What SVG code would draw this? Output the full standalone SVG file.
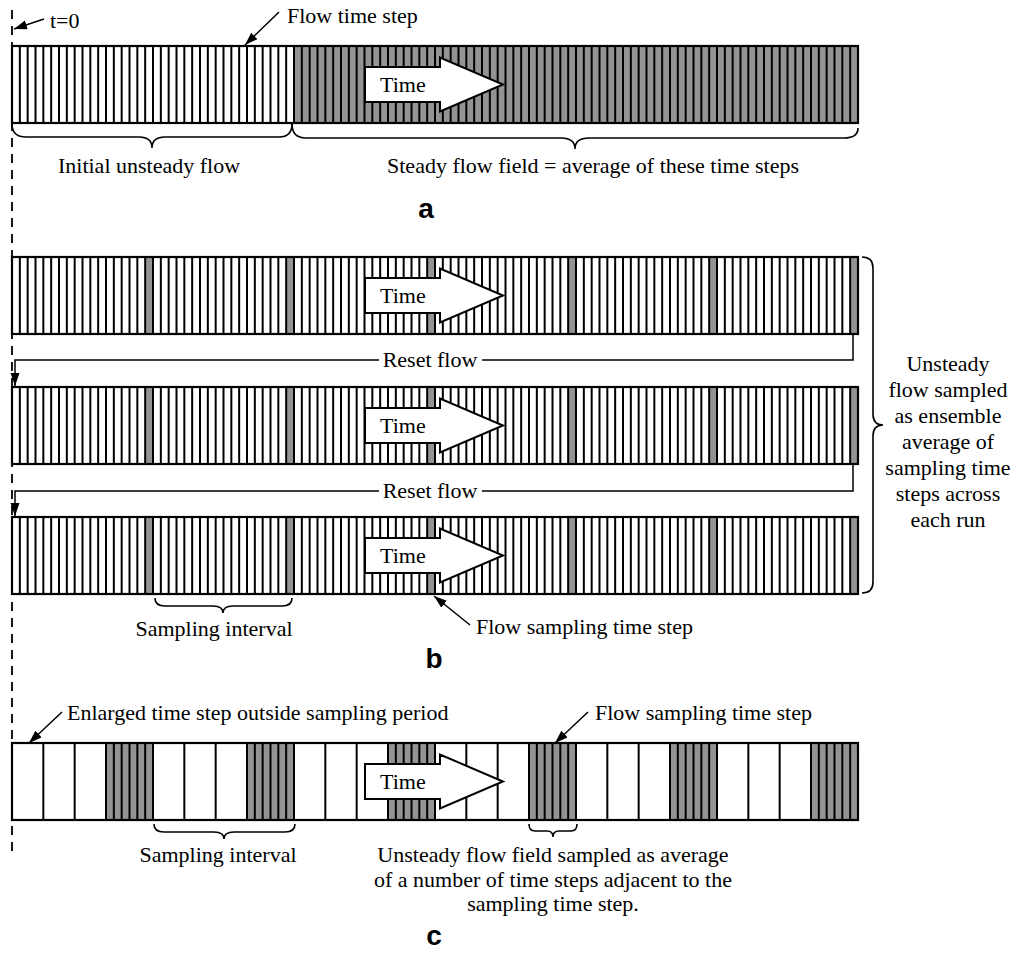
<svg xmlns="http://www.w3.org/2000/svg" width="1017" height="956" viewBox="0 0 1017 956">
<style>
.t{font-family:"Liberation Serif","Times New Roman",serif;font-size:22px;fill:#000}
.m{text-anchor:middle}
.lbl{font-family:"Liberation Sans",Arial,sans-serif;font-size:28px;font-weight:bold;fill:#000;text-anchor:middle}
.ol{fill:none;stroke:#000;stroke-width:2.2}
.bg{fill:#fff}
.g{fill:#939393}
.cl{stroke:#000;stroke-width:2;fill:none}
.ta{fill:#fff;stroke:#000;stroke-width:2}
.br{fill:none;stroke:#000;stroke-width:1.6}
.cn{fill:none;stroke:#000;stroke-width:1.5}
.dash{fill:none;stroke:#000;stroke-width:1.8;stroke-dasharray:9 7}
</style>
<defs>
<marker id="ah" markerUnits="userSpaceOnUse" markerWidth="16" markerHeight="12" refX="13" refY="4.5" orient="auto"><path d="M0,0 L13,4.5 L0,9 z" fill="#000"/></marker>
<path id="six" class="cl" d="M12 0v77M19.833 0v77M27.667 0v77M35.5 0v77M43.333 0v77M51.167 0v77"/>
<g id="row">
<use href="#six"/><use href="#six" x="47"/><use href="#six" x="94"/><use href="#six" x="141"/><use href="#six" x="188"/><use href="#six" x="235"/><use href="#six" x="282"/><use href="#six" x="329"/><use href="#six" x="376"/><use href="#six" x="423"/><use href="#six" x="470"/><use href="#six" x="517"/><use href="#six" x="564"/><use href="#six" x="611"/><use href="#six" x="658"/><use href="#six" x="705"/><use href="#six" x="752"/><use href="#six" x="799"/>
</g>
<path id="cper" class="cl" d="M43.333 0v77M74.667 0v77M106 0v77M113.833 0v77M121.667 0v77M129.5 0v77M137.333 0v77M145.167 0v77M153 0v77"/>
<path id="tarrow" class="ta" d="M365 -17.5H440V-27L503 0L440 27V17.5H365Z"/>
</defs>

<path class="dash" d="M12 10V852"/>

<g id="bar-a">
<rect class="bg" x="12" y="46" width="846" height="77"/>
<rect class="g" x="294" y="46" width="564" height="77"/>
<use href="#row" y="46"/>
<rect class="ol" x="12" y="46" width="846" height="77"/>
<use href="#tarrow" y="84.5"/>
<text class="t" x="380" y="92">Time</text>
</g>

<g id="bar-b1">
<rect class="bg" x="12" y="257" width="846" height="77"/>
<rect class="g" x="145.167" y="257" width="7.833" height="77"/><rect class="g" x="286.167" y="257" width="7.833" height="77"/><rect class="g" x="427.167" y="257" width="7.833" height="77"/><rect class="g" x="568.167" y="257" width="7.833" height="77"/><rect class="g" x="709.167" y="257" width="7.833" height="77"/><rect class="g" x="850.167" y="257" width="7.833" height="77"/>
<use href="#row" y="257"/>
<rect class="ol" x="12" y="257" width="846" height="77"/>
<use href="#tarrow" y="295.5"/>
<text class="t" x="380" y="303">Time</text>
</g>

<g id="bar-b2">
<rect class="bg" x="12" y="387" width="846" height="77"/>
<rect class="g" x="145.167" y="387" width="7.833" height="77"/><rect class="g" x="286.167" y="387" width="7.833" height="77"/><rect class="g" x="427.167" y="387" width="7.833" height="77"/><rect class="g" x="568.167" y="387" width="7.833" height="77"/><rect class="g" x="709.167" y="387" width="7.833" height="77"/><rect class="g" x="850.167" y="387" width="7.833" height="77"/>
<use href="#row" y="387"/>
<rect class="ol" x="12" y="387" width="846" height="77"/>
<use href="#tarrow" y="425.5"/>
<text class="t" x="380" y="433">Time</text>
</g>

<g id="bar-b3">
<rect class="bg" x="12" y="517" width="846" height="77"/>
<rect class="g" x="145.167" y="517" width="7.833" height="77"/><rect class="g" x="286.167" y="517" width="7.833" height="77"/><rect class="g" x="427.167" y="517" width="7.833" height="77"/><rect class="g" x="568.167" y="517" width="7.833" height="77"/><rect class="g" x="709.167" y="517" width="7.833" height="77"/><rect class="g" x="850.167" y="517" width="7.833" height="77"/>
<use href="#row" y="517"/>
<rect class="ol" x="12" y="517" width="846" height="77"/>
<use href="#tarrow" y="555.5"/>
<text class="t" x="380" y="563">Time</text>
</g>

<g id="bar-c">
<rect class="bg" x="12" y="743" width="846" height="77"/>
<rect class="g" x="106" y="743" width="47" height="77"/><rect class="g" x="247" y="743" width="47" height="77"/><rect class="g" x="388" y="743" width="47" height="77"/><rect class="g" x="529" y="743" width="47" height="77"/><rect class="g" x="670" y="743" width="47" height="77"/><rect class="g" x="811" y="743" width="47" height="77"/>
<use href="#cper" y="743"/><use href="#cper" x="141" y="743"/><use href="#cper" x="282" y="743"/><use href="#cper" x="423" y="743"/><use href="#cper" x="564" y="743"/><use href="#cper" x="705" y="743"/>
<rect class="ol" x="12" y="743" width="846" height="77"/>
<use href="#tarrow" y="781.5"/>
<text class="t" x="380" y="789">Time</text>
</g>

<g id="connectors">
<line class="cn" x1="44" y1="19" x2="14" y2="29" marker-end="url(#ah)"/>
<line class="cn" x1="279" y1="12" x2="245" y2="45" marker-end="url(#ah)"/>
<path class="cn" d="M853 334V360H15V386" marker-end="url(#ah)"/>
<path class="cn" d="M853 464V491H15V516" marker-end="url(#ah)"/>
<line class="cn" x1="470" y1="625" x2="434" y2="596" marker-end="url(#ah)"/>
<line class="cn" x1="62" y1="712" x2="29" y2="743" marker-end="url(#ah)"/>
<line class="cn" x1="588" y1="712" x2="555" y2="743" marker-end="url(#ah)"/>
</g>

<g id="braces">
<path class="br" d="M12 124Q12 137 26 137H139Q152 137 152 148Q152 137 165 137H279Q292 137 292 124"/>
<path class="br" d="M292 124Q292 138 306 138H561Q575 138 575 149Q575 138 589 138H844Q858 138 858 128"/>
<path class="br" d="M155 598Q155 606 165 606H213Q223 606 223 613Q223 606 233 606H282Q292 606 292 598"/>
<path class="br" d="M154 824Q154 832 164 832H214Q224 832 224 839Q224 832 234 832H285Q295 832 295 824"/>
<path class="br" d="M529 824Q529 831 535 831H547Q553 831 553 837Q553 831 559 831H571Q577 831 577 824"/>
<path class="br" d="M862 257Q873 257 873 268V414Q873 425 883 425Q873 425 873 436V582Q873 593 862 593"/>
</g>

<g id="labels">
<text class="t" x="50" y="28">t=0</text>
<text class="t" x="287" y="23">Flow time step</text>
<text class="t m" x="149" y="173">Initial unsteady flow</text>
<text class="t m" x="593" y="173">Steady flow field = average of these time steps</text>
<text class="lbl" x="426" y="218">a</text>
<rect x="379" y="354" width="103" height="12" fill="#fff"/>
<text class="t m" x="430" y="367">Reset flow</text>
<rect x="379" y="485" width="103" height="12" fill="#fff"/>
<text class="t m" x="430" y="498">Reset flow</text>
<text class="t m" x="948" y="371">Unsteady</text>
<text class="t m" x="948" y="397">flow sampled</text>
<text class="t m" x="948" y="423">as ensemble</text>
<text class="t m" x="948" y="449">average of</text>
<text class="t m" x="948" y="475">sampling time</text>
<text class="t m" x="948" y="501">steps across</text>
<text class="t m" x="948" y="527">each run</text>
<text class="t m" x="214" y="636">Sampling interval</text>
<text class="t" x="476" y="634">Flow sampling time step</text>
<text class="lbl" x="434" y="668">b</text>
<text class="t" x="67" y="720">Enlarged time step outside sampling period</text>
<text class="t" x="595" y="720">Flow sampling time step</text>
<text class="t m" x="218" y="862">Sampling interval</text>
<text class="t m" x="553" y="862">Unsteady flow field sampled as average</text>
<text class="t m" x="553" y="887">of a number of time steps adjacent to the</text>
<text class="t m" x="553" y="911">sampling time step.</text>
<text class="lbl" x="434" y="945">c</text>
</g>
</svg>
